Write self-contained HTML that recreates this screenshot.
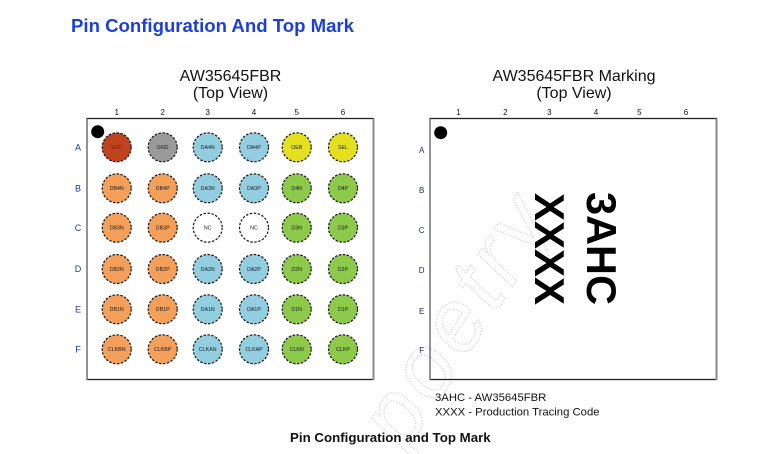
<!DOCTYPE html>
<html><head><meta charset="utf-8"><style>
html,body{margin:0;padding:0;background:#fff;}
svg{display:block;}
text{font-family:"Liberation Sans",Arial,sans-serif;}
</style></head><body>
<svg width="770" height="454" viewBox="0 0 770 454" xmlns="http://www.w3.org/2000/svg">
<rect width="770" height="454" fill="#fff"/>
<!-- watermark -->
<g transform="translate(405,452) rotate(-57)" opacity="0.5">
<text x="0" y="0" font-size="88" letter-spacing="6" font-style="italic" font-family="'Liberation Serif',serif" fill="none" stroke="#b5b5b5" stroke-width="1.3" stroke-dasharray="1.5 1.5">poetry</text>
</g>
<text x="71" y="32" font-size="18.6" font-weight="bold" fill="#1c3fd6">Pin Configuration And Top Mark</text>

<!-- Left panel -->
<text x="230.5" y="81" font-size="16" text-anchor="middle" fill="#111">AW35645FBR</text>
<text x="230.5" y="98" font-size="16" text-anchor="middle" fill="#111">(Top View)</text>
<rect x="87" y="118.5" width="286.5" height="261" fill="none" stroke="#222" stroke-width="1.3"/>
<line x1="373.5" y1="118.5" x2="373.5" y2="380" stroke="#888" stroke-width="2"/>
<line x1="87" y1="118.5" x2="87" y2="380" stroke="#777" stroke-width="1.2"/>
<g font-size="8" fill="#111" text-anchor="middle">
<text x="116.7" y="115">1</text><text x="162.7" y="115">2</text><text x="207.7" y="115">3</text><text x="254" y="115">4</text><text x="296.7" y="115">5</text><text x="343" y="115">6</text>
</g>
<g font-size="9" fill="#1a3a9a" text-anchor="middle">
<text x="78" y="150.5">A</text><text x="78" y="191.5">B</text><text x="78" y="231">C</text><text x="78" y="272">D</text><text x="78" y="312.5">E</text><text x="78" y="352.5">F</text>
</g>
<circle cx="97.7" cy="131.7" r="6.5" fill="#000"/>
<g stroke="#111" stroke-width="1.2" stroke-dasharray="2.4 1.6">
<!-- Row A -->
<circle cx="116.7" cy="147.3" r="14.5" fill="#c0421e"/>
<circle cx="162.7" cy="147.3" r="14.5" fill="#9a9a9a"/>
<circle cx="207.7" cy="147.3" r="14.5" fill="#93cde0"/>
<circle cx="254" cy="147.3" r="14.5" fill="#93cde0"/>
<circle cx="296.7" cy="147.3" r="14.5" fill="#e4e020"/>
<circle cx="343" cy="147.3" r="14.5" fill="#e4e020"/>
<!-- Row B -->
<circle cx="116.7" cy="188.3" r="14.5" fill="#f4a05a"/>
<circle cx="162.7" cy="188.3" r="14.5" fill="#f4a05a"/>
<circle cx="207.7" cy="188.3" r="14.5" fill="#93cde0"/>
<circle cx="254" cy="188.3" r="14.5" fill="#93cde0"/>
<circle cx="296.7" cy="188.3" r="14.5" fill="#8dca4b"/>
<circle cx="343" cy="188.3" r="14.5" fill="#8dca4b"/>
<!-- Row C -->
<circle cx="116.7" cy="227.7" r="14.5" fill="#f4a05a"/>
<circle cx="162.7" cy="227.7" r="14.5" fill="#f4a05a"/>
<circle cx="207.7" cy="227.7" r="14.5" fill="#fff"/>
<circle cx="254" cy="227.7" r="14.5" fill="#fff"/>
<circle cx="296.7" cy="227.7" r="14.5" fill="#8dca4b"/>
<circle cx="343" cy="227.7" r="14.5" fill="#8dca4b"/>
<!-- Row D -->
<circle cx="116.7" cy="269" r="14.5" fill="#f4a05a"/>
<circle cx="162.7" cy="269" r="14.5" fill="#f4a05a"/>
<circle cx="207.7" cy="269" r="14.5" fill="#93cde0"/>
<circle cx="254" cy="269" r="14.5" fill="#93cde0"/>
<circle cx="296.7" cy="269" r="14.5" fill="#8dca4b"/>
<circle cx="343" cy="269" r="14.5" fill="#8dca4b"/>
<!-- Row E -->
<circle cx="116.7" cy="309.3" r="14.5" fill="#f4a05a"/>
<circle cx="162.7" cy="309.3" r="14.5" fill="#f4a05a"/>
<circle cx="207.7" cy="309.3" r="14.5" fill="#93cde0"/>
<circle cx="254" cy="309.3" r="14.5" fill="#93cde0"/>
<circle cx="296.7" cy="309.3" r="14.5" fill="#8dca4b"/>
<circle cx="343" cy="309.3" r="14.5" fill="#8dca4b"/>
<!-- Row F -->
<circle cx="116.7" cy="349.3" r="14.5" fill="#f4a05a"/>
<circle cx="162.7" cy="349.3" r="14.5" fill="#f4a05a"/>
<circle cx="207.7" cy="349.3" r="14.5" fill="#93cde0"/>
<circle cx="254" cy="349.3" r="14.5" fill="#93cde0"/>
<circle cx="296.7" cy="349.3" r="14.5" fill="#8dca4b"/>
<circle cx="343" cy="349.3" r="14.5" fill="#8dca4b"/>
</g>
<g font-size="5.3" fill="#1a1a1a" text-anchor="middle">
<text x="116.7" y="149.2" fill="#5a1a08">VCC</text><text x="162.7" y="149.2">GND</text><text x="207.7" y="149.2">DA4N</text><text x="254" y="149.2">DA4P</text><text x="296.7" y="149.2">OEB</text><text x="343" y="149.2">SEL</text>
<text x="116.7" y="190.2">DB4N</text><text x="162.7" y="190.2">DB4P</text><text x="207.7" y="190.2">DA3N</text><text x="254" y="190.2">DA3P</text><text x="296.7" y="190.2">D4N</text><text x="343" y="190.2">D4P</text>
<text x="116.7" y="229.6">DB3N</text><text x="162.7" y="229.6">DB3P</text><text x="207.7" y="229.6">NC</text><text x="254" y="229.6">NC</text><text x="296.7" y="229.6">D3N</text><text x="343" y="229.6">D3P</text>
<text x="116.7" y="270.9">DB2N</text><text x="162.7" y="270.9">DB2P</text><text x="207.7" y="270.9">DA2N</text><text x="254" y="270.9">DA2P</text><text x="296.7" y="270.9">D2N</text><text x="343" y="270.9">D2P</text>
<text x="116.7" y="311.2">DB1N</text><text x="162.7" y="311.2">DB1P</text><text x="207.7" y="311.2">DA1N</text><text x="254" y="311.2">DA1P</text><text x="296.7" y="311.2">D1N</text><text x="343" y="311.2">D1P</text>
<text x="116.7" y="351.2">CLKBN</text><text x="162.7" y="351.2">CLKBP</text><text x="207.7" y="351.2">CLKAN</text><text x="254" y="351.2">CLKAP</text><text x="296.7" y="351.2">CLKN</text><text x="343" y="351.2">CLKP</text>
</g>

<!-- Right panel -->
<text x="574" y="81" font-size="16" text-anchor="middle" fill="#111">AW35645FBR Marking</text>
<text x="574" y="98" font-size="16" text-anchor="middle" fill="#111">(Top View)</text>
<rect x="430" y="118.5" width="286.5" height="261" fill="none" stroke="#222" stroke-width="1.3"/>
<line x1="716.5" y1="118.5" x2="716.5" y2="380" stroke="#888" stroke-width="2"/>
<line x1="430" y1="118.5" x2="430" y2="380" stroke="#777" stroke-width="1.2"/>
<g font-size="8" fill="#111" text-anchor="middle">
<text x="458.3" y="115">1</text><text x="505.3" y="115">2</text><text x="549.3" y="115">3</text><text x="596" y="115">4</text><text x="639.3" y="115">5</text><text x="686" y="115">6</text>
</g>
<g font-size="8" fill="#1a2a6a" text-anchor="middle">
<text x="421.7" y="152.8">A</text><text x="421.7" y="192.8">B</text><text x="421.7" y="232.8">C</text><text x="421.7" y="272.8">D</text><text x="421.7" y="313.8">E</text><text x="421.7" y="352.8">F</text>
</g>
<circle cx="440.7" cy="132.7" r="6.5" fill="#000"/>
<text transform="translate(535,193) rotate(90)" x="0" y="0" font-size="42" font-weight="bold" fill="#000">XXXX</text>
<text transform="translate(587,192) rotate(90)" x="0" y="0" font-size="41.5" font-weight="bold" fill="#000">3AHC</text>
<text x="435" y="401" font-size="11.3" fill="#111">3AHC - AW35645FBR</text>
<text x="435" y="415.7" font-size="11.3" fill="#111">XXXX - Production Tracing Code</text>

<text x="290" y="442" font-size="13.3" font-weight="bold" fill="#111">Pin Configuration and Top Mark</text>
</svg>
</body></html>
